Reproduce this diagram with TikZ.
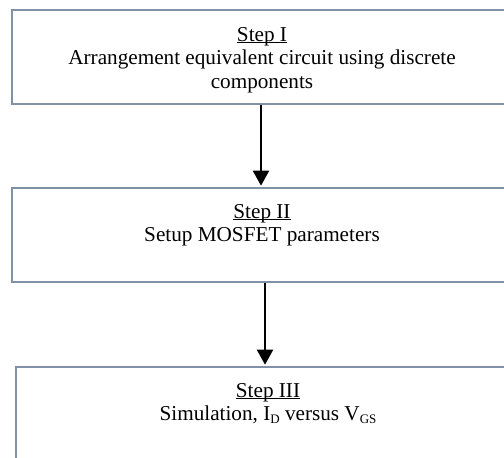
\documentclass[tikz,border=0pt]{standalone}
\usepackage{fontspec}
\setmainfont{Liberation Serif}
\usetikzlibrary{arrows.meta}
\definecolor{boxline}{RGB}{128,144,166}
\newcommand\stepul[1]{\setbox0\hbox{#1}\rlap{\rule[-2pt]{\wd0}{0.9pt}}\box0}
\newcommand\stepsub[1]{\raisebox{-2.5pt}{\fontsize{13}{13}\selectfont #1}}
\tikzset{
  stepbox/.style={draw=boxline, line width=1.6pt, fill=white, rectangle, inner sep=0pt},
  steptext/.style={anchor=north, align=center, inner sep=0pt, font=\fontsize{21.2}{23.5}\selectfont},
  arr/.style={line width=2pt, -{Triangle[width=16pt,length=15pt]}, shorten >=1.5pt}
}
\begin{document}
\begin{tikzpicture}[x=1pt,y=-1pt]
\useasboundingbox (0,0) rectangle (504,458);
\clip (0,0) rectangle (504,458);
\node[stepbox, minimum width=500pt, minimum height=94pt] (s1) at (262,57) {};
\node[stepbox, minimum width=500pt, minimum height=94pt] (s2) at (262,235) {};
\node[stepbox, minimum width=504pt, minimum height=110pt] (s3) at (268,422) {};
\node[steptext] (t1) at (262,27) {\stepul{Step I}\\Arrangement equivalent circuit using discrete\\components};
\node[steptext] (t2) at (262,204) {\stepul{Step II}\\Setup MOSFET parameters};
\node[steptext] (t3) at (268,383) {\stepul{Step III}\\Simulation, I\stepsub{D} versus V\stepsub{GS}};
\draw[arr] ([xshift=-1pt]s1.south) -- ([xshift=-1pt]s2.north);
\draw[arr] ([xshift=3pt]s2.south) -- ([xshift=-3pt]s3.north);
\end{tikzpicture}
\end{document}
